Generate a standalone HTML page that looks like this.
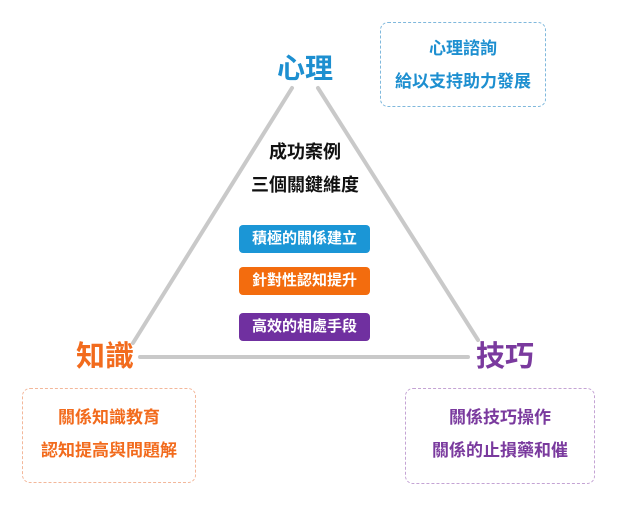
<!DOCTYPE html>
<html><head><meta charset="utf-8"><style>
body{margin:0;width:618px;height:509px;background:#fff;position:relative;overflow:hidden;font-family:"Liberation Sans","Noto Sans CJK TC",sans-serif;}
.a{position:absolute;text-align:center;font-weight:bold;}
.pill{position:absolute;left:239px;width:131px;height:28px;line-height:28px;border-radius:4px;color:#fff;font-size:15px;text-align:center;font-weight:bold;}
.box{position:absolute;border:1.5px dashed;border-radius:8px;font-size:17px;font-weight:bold;text-align:center;line-height:33px;box-sizing:border-box;}
</style></head><body>
<svg width="618" height="509" style="position:absolute;left:0;top:0">
<g stroke="#c9c9c9" stroke-width="4" stroke-linecap="round">
<line x1="292" y1="88" x2="133" y2="343"/>
<line x1="318" y1="88" x2="478" y2="340"/>
<line x1="140" y1="357" x2="468" y2="357"/>
</g></svg>
<div class="a" style="left:255px;top:47px;width:100px;font-size:28px;color:#1d8fd0">心理</div>
<div class="a" style="left:55px;top:333px;width:100px;font-size:29px;color:#f26b1d">知識</div>
<div class="a" style="left:455px;top:333px;width:100px;font-size:29px;color:#7a3a9e">技巧</div>
<div class="a" style="left:230px;top:138px;width:150px;font-size:18px;color:#111">成功案例</div>
<div class="a" style="left:230px;top:171px;width:150px;font-size:18px;color:#111">三個關鍵維度</div>
<div class="pill" style="top:225px;background:#1b96d6">積極的關係建立</div>
<div class="pill" style="top:267px;background:#f36c0e">針對性認知提升</div>
<div class="pill" style="top:313px;background:#7030a0">高效的相處手段</div>
<div class="box" style="left:380px;top:22px;width:166px;height:85px;border-color:#7fb8dc;color:#1d8fd0;padding-top:9px">心理諮詢<br>給以支持助力發展</div>
<div class="box" style="left:22px;top:388px;width:174px;height:95px;border-color:#f3b79a;color:#f26b1d;padding-top:12px">關係知識教育<br>認知提高與問題解</div>
<div class="box" style="left:405px;top:388px;width:190px;height:96px;border-color:#c4a3d4;color:#7a3a9e;padding-top:12px">關係技巧操作<br>關係的止損藥和催</div>
</body></html>
